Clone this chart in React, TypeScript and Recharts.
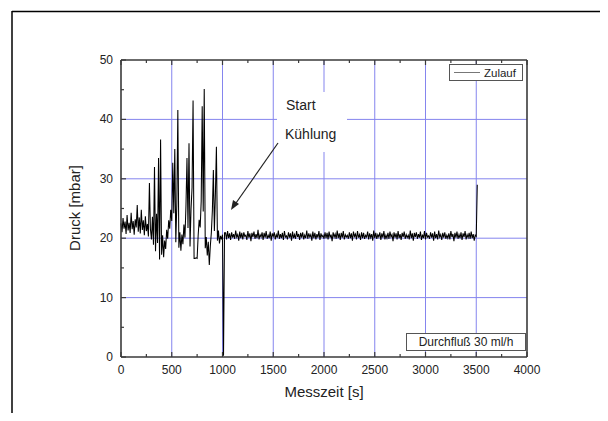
import React from "react";
import {
  LineChart,
  Line,
  XAxis,
  YAxis,
  ReferenceLine,
} from "recharts";

// pressure samples, one every SAMPLE_STEP seconds starting at 0 s
const SAMPLE_STEP = 10;

// 0 .. 1020 s (before cooling starts)
const pressureBeforeCooling = [
  22.5, 21.0, 23.4, 21.6, 22.8, 20.7, 23.9, 21.3, 22.6, 20.9,
  24.3, 21.5, 22.9, 20.6, 23.2, 21.8, 25.6, 21.1, 23.5, 20.8,
  24.8, 21.4, 23.0, 20.5, 23.7, 21.2, 22.4, 20.3, 29.3, 21.5,
  19.8, 23.6, 18.9, 32.0, 17.8, 24.1, 19.2, 33.5, 16.4, 36.6,
  17.2, 20.5, 16.8, 19.6, 18.2, 21.4, 19.9, 23.0, 21.6, 24.8,
  22.9, 32.7, 24.2, 35.0, 19.3, 25.8, 41.6, 18.4, 21.0, 17.9,
  20.6, 19.0, 22.3, 20.1, 25.4, 33.5, 21.7, 36.0, 18.6, 24.9,
  28.5, 43.2, 16.6, 16.6, 16.7, 16.6, 20.4, 23.1, 21.8, 26.2,
  42.2, 24.5, 45.1, 18.3, 20.2, 17.1, 19.4, 15.5, 18.7, 20.9,
  24.6, 31.5, 21.2, 27.4, 35.4, 19.6, 21.3, 19.1, 20.4, 19.8,
  20.6, 0.2, 20.9,
];

// 1030 .. 3510 s (cooling running)
const pressureAfterCooling = [
  20.9, 19.8, 21.2, 20.0, 20.8, 19.7, 21.0, 20.1, 20.7, 19.9,
  21.3, 20.2, 20.6, 19.6, 21.1, 20.0, 20.9, 19.8, 21.0, 20.3,
  20.5, 19.7, 21.2, 20.1, 20.8, 19.5, 20.9, 20.2, 21.1, 19.9,
  20.7, 20.0, 21.4, 19.8, 20.6, 20.2, 21.0, 19.7, 20.9, 20.1,
  21.2, 19.9, 20.5, 20.0, 21.1, 19.6, 20.8, 20.3, 21.0, 19.8,
  20.6, 20.1, 21.3, 19.9, 20.7, 20.0, 20.9, 19.7, 21.2, 20.2,
  20.4, 19.8, 21.0, 20.1, 20.8, 19.6, 21.1, 20.0, 20.6, 19.9,
  21.2, 20.2, 20.7, 19.7, 20.9, 20.1, 21.0, 19.8, 20.5, 20.0,
  21.3, 19.9, 20.8, 20.2, 20.6, 19.6, 21.1, 20.0, 20.9, 19.8,
  20.7, 20.1, 21.2, 19.7, 20.8, 20.2, 20.5, 19.9, 21.0, 20.0,
  20.9, 19.8, 21.1, 20.1, 20.6, 19.5, 21.0, 20.2, 20.7, 19.9,
  21.3, 20.0, 20.8, 19.7, 20.9, 20.1, 21.2, 19.8, 20.6, 20.2,
  20.5, 19.9, 21.0, 20.0, 20.8, 19.6, 21.1, 20.3, 20.7, 19.8,
  21.2, 20.1, 20.6, 19.7, 21.0, 20.0, 20.9, 19.9, 20.5, 20.2,
  21.1, 19.8, 20.8, 20.1, 20.7, 19.6, 21.3, 20.0, 20.9, 19.9,
  20.6, 20.2, 21.0, 19.7, 20.8, 20.1, 21.2, 19.8, 20.5, 20.0,
  20.9, 19.9, 21.1, 20.2, 20.6, 19.5, 21.0, 20.1, 20.8, 19.8,
  21.2, 20.0, 20.7, 19.7, 20.9, 20.2, 21.1, 19.9, 20.6, 20.1,
  20.5, 19.8, 21.3, 20.0, 20.8, 19.6, 20.9, 20.2, 21.0, 19.9,
  20.7, 20.1, 21.1, 19.7, 20.6, 20.0, 21.2, 19.8, 20.9, 20.2,
  20.4, 19.9, 21.0, 20.1, 20.8, 19.6, 21.1, 20.0, 20.7, 19.8,
  21.3, 20.2, 20.6, 19.7, 20.9, 20.1, 21.0, 19.9, 20.5, 20.0,
  20.8, 19.8, 21.2, 20.2, 20.7, 19.5, 20.9, 20.1, 21.1, 19.9,
  20.6, 20.0, 21.0, 19.7, 20.8, 20.2, 21.2, 19.8, 20.6, 20.1,
  20.9, 19.9, 21.1, 20.0, 20.7, 19.6, 20.5, 20.3, 29.0,
];

const xTicks = [
  0, 250, 500, 750, 1000, 1250, 1500, 1750, 2000, 2250, 2500, 2750, 3000,
  3250, 3500, 3750, 4000,
];
const xMajor = [0, 500, 1000, 1500, 2000, 2500, 3000, 3500, 4000];
const yTicks = [0, 5, 10, 15, 20, 25, 30, 35, 40, 45, 50];
const yMajor = [0, 10, 20, 30, 40, 50];
const xGrid = [500, 1000, 1500, 2000, 2500, 3000, 3500];
const yGrid = [10, 20, 30, 40];

const data = [...pressureBeforeCooling, ...pressureAfterCooling].map(
  (p, i) => ({ t: i * SAMPLE_STEP, p })
);

const FONT = "'Liberation Sans', Arial, sans-serif";
const AXIS = "#3a3a3a";
const GRID = "#8585ee";

// tick helpers: dir +1/-1 points into the plot area
const makeXTick = (dir: number, labels: boolean) => (props: any) => {
  const { x, y, payload } = props;
  const major = xMajor.includes(payload.value);
  const len = major ? 5 : 3;
  return (
    <g>
      <line x1={x} x2={x} y1={y} y2={y + dir * len} stroke={AXIS} strokeWidth={1.2} />
      {labels && major && (
        <text x={x} y={y + 17} textAnchor="middle" fontSize={12} fill="#222" fontFamily={FONT}>
          {payload.value}
        </text>
      )}
    </g>
  );
};

const makeYTick = (dir: number, labels: boolean) => (props: any) => {
  const { x, y, payload } = props;
  const major = yMajor.includes(payload.value);
  const len = major ? 5 : 3;
  return (
    <g>
      <line x1={x} x2={x + dir * len} y1={y} y2={y} stroke={AXIS} strokeWidth={1.2} />
      {labels && major && (
        <text x={x - 8} y={y + 4} textAnchor="end" fontSize={12} fill="#222" fontFamily={FONT}>
          {payload.value}
        </text>
      )}
    </g>
  );
};

export default function App() {
  return (
    <div style={{ position: "relative", width: 608, height: 421, margin: -8, background: "#fff" }}>
      <LineChart
        width={608}
        height={421}
        data={data}
        margin={{ top: 30, right: 21, left: 61, bottom: 34 }}
      >
        {xGrid.map((v) => (
          <ReferenceLine key={`gx-${v}`} x={v} stroke={GRID} strokeWidth={1} />
        ))}
        {yGrid.map((v) => (
          <ReferenceLine key={`gy-${v}`} y={v} stroke={GRID} strokeWidth={1} />
        ))}
        <XAxis
          dataKey="t"
          type="number"
          domain={[0, 4000]}
          ticks={xTicks}
          interval={0}
          height={30}
          tickSize={0}
          tickMargin={0}
          tickLine={false}
          axisLine={{ stroke: AXIS, strokeWidth: 1.6 }}
          tick={makeXTick(-1, true)}
        />
        <XAxis
          xAxisId="top"
          orientation="top"
          dataKey="t"
          type="number"
          domain={[0, 4000]}
          ticks={xTicks}
          interval={0}
          height={30}
          tickSize={0}
          tickMargin={0}
          tickLine={false}
          axisLine={{ stroke: AXIS, strokeWidth: 1.6 }}
          tick={makeXTick(1, false)}
        />
        <YAxis
          type="number"
          domain={[0, 50]}
          ticks={yTicks}
          interval={0}
          width={60}
          tickSize={0}
          tickMargin={0}
          tickLine={false}
          axisLine={{ stroke: AXIS, strokeWidth: 1.6 }}
          tick={makeYTick(1, true)}
        />
        <YAxis
          yAxisId="right"
          orientation="right"
          type="number"
          domain={[0, 50]}
          ticks={yTicks}
          interval={0}
          width={60}
          tickSize={0}
          tickMargin={0}
          tickLine={false}
          axisLine={{ stroke: AXIS, strokeWidth: 1.6 }}
          tick={makeYTick(-1, false)}
        />
        <Line
          dataKey="p"
          type="linear"
          stroke="#000"
          strokeWidth={1.05}
          dot={false}
          isAnimationActive={false}
        />
      </LineChart>

      {/* frame, annotations, legend */}
      <svg
        width={608}
        height={421}
        style={{ position: "absolute", left: 0, top: 0, pointerEvents: "none" }}
        fontFamily={FONT}
      >
        <line x1={12} y1={11.5} x2={608} y2={11.5} stroke="#000" strokeWidth={1.5} />
        <line x1={12} y1={11} x2={12} y2={421} stroke="#000" strokeWidth={1.5} />

        <text
          x={76}
          y={208}
          transform="rotate(-90 76 208)"
          textAnchor="middle"
          dominantBaseline="middle"
          fontSize={15}
          fill="#222"
        >
          Druck [mbar]
        </text>
        <text x={324} y={397} textAnchor="middle" fontSize={15} fill="#222">
          Messzeit [s]
        </text>

        <rect x={277} y={92} width={70} height={60} fill="#fff" />
        <text x={286} y={110} fontSize={14} fill="#222">Start</text>
        <text x={285} y={139} fontSize={14} fill="#222">Kühlung</text>
        <line x1={278} y1={143} x2={236} y2={203} stroke="#222" strokeWidth={1.2} />
        <polygon points="231,210 233,200 239,204" fill="#222" />

        <rect x={449.5} y={64.5} width={73} height={16} fill="#fff" stroke="#555" strokeWidth={1} />
        <line x1={454} y1={72.5} x2={480} y2={72.5} stroke="#777" strokeWidth={1} />
        <text x={484} y={77} fontSize={11.5} fill="#222">Zulauf</text>

        <rect x={406.5} y={333.5} width={119} height={17} fill="#fff" stroke="#555" strokeWidth={1} />
        <text x={466} y={346} textAnchor="middle" fontSize={12} fill="#222">
          Durchfluß 30 ml/h
        </text>
      </svg>
    </div>
  );
}
